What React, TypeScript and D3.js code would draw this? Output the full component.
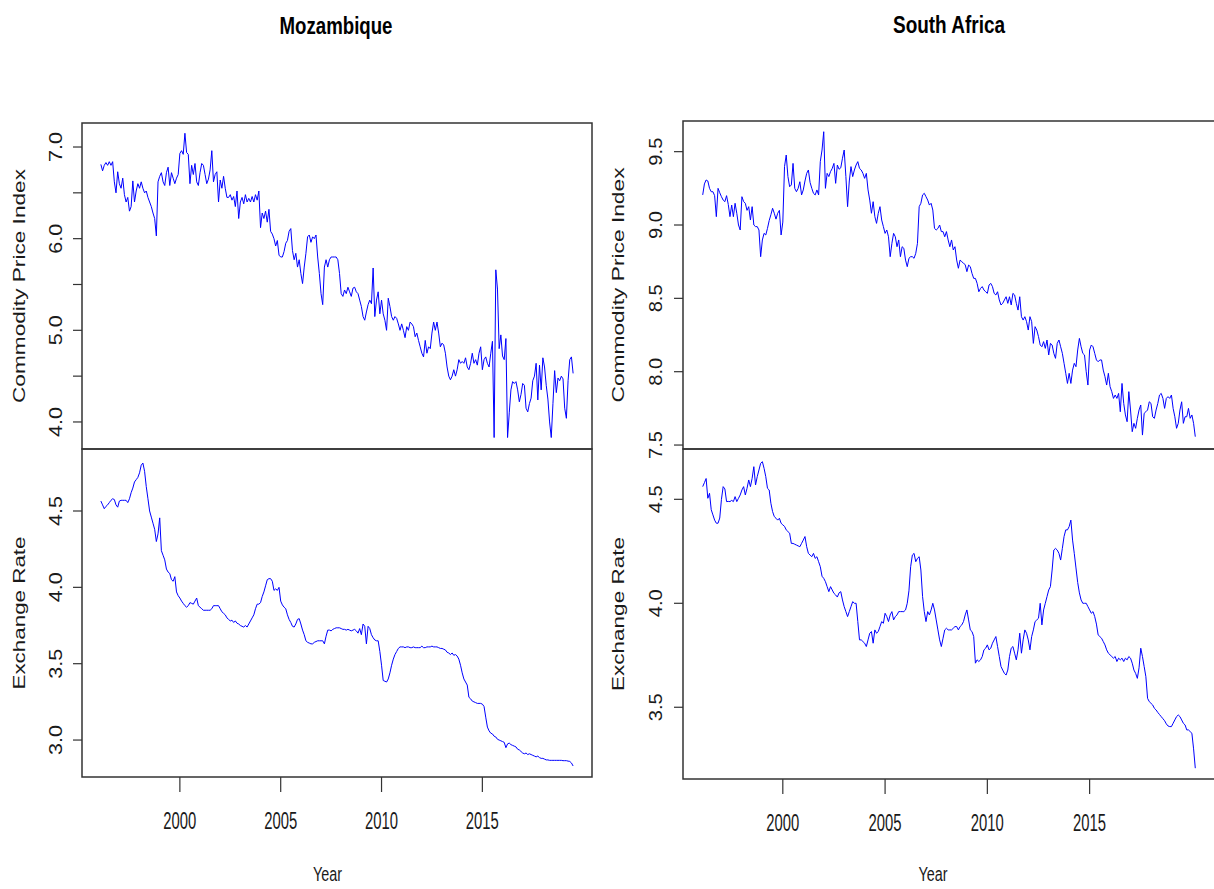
import React from 'react';
import * as d3 from 'd3';

// Monthly series, first observation February 1996.
const START = 1996 + 1 / 12;

// Mozambique: log commodity price index (Feb 1996 – Jul 2019)
const MZ_CPI = [
  6.81, 6.74, 6.80, 6.83, 6.80, 6.84, 6.80, 6.84, 6.62, 6.50, 6.73, 6.60,
  6.55, 6.66, 6.48, 6.40, 6.45, 6.30, 6.35, 6.63, 6.40, 6.52, 6.60, 6.55,
  6.62, 6.55, 6.50, 6.52, 6.45, 6.40, 6.35, 6.28, 6.22, 6.03, 6.62, 6.68,
  6.72, 6.62, 6.58, 6.72, 6.78, 6.58, 6.72, 6.66, 6.60, 6.66, 6.70, 6.93,
  6.96, 6.92, 7.15, 6.94, 6.92, 6.60, 6.80, 6.70, 6.82, 6.62, 6.58, 6.72,
  6.82, 6.80, 6.70, 6.60, 6.65, 6.75, 6.96, 6.62, 6.70, 6.73, 6.40, 6.64,
  6.55, 6.68, 6.55, 6.45, 6.45, 6.48, 6.42, 6.46, 6.35, 6.52, 6.22, 6.40,
  6.45, 6.38, 6.48, 6.40, 6.44, 6.40, 6.46, 6.40, 6.48, 6.42, 6.52, 6.12,
  6.28, 6.22, 6.30, 6.18, 6.32, 6.08, 6.05, 6.00, 5.92, 5.98, 5.82, 5.80,
  5.80, 5.86, 5.95, 5.98, 6.08, 6.11, 5.87, 5.77, 5.84, 5.69, 5.77, 5.62,
  5.51, 5.69, 5.84, 6.02, 6.04, 5.96, 6.02, 6.00, 6.04, 5.80, 5.62, 5.40,
  5.28, 5.69, 5.77, 5.69, 5.77, 5.80, 5.80, 5.80, 5.80, 5.77, 5.62, 5.40,
  5.37, 5.44, 5.40, 5.47, 5.42, 5.37, 5.46, 5.47, 5.42, 5.40, 5.33, 5.26,
  5.15, 5.11, 5.20, 5.28, 5.33, 5.29, 5.68, 5.15, 5.33, 5.42, 5.18, 5.33,
  5.18, 5.11, 5.00, 5.35, 5.26, 5.15, 5.11, 5.15, 5.13, 5.07, 5.00, 5.07,
  5.00, 4.92, 5.04, 5.00, 5.09, 5.07, 5.04, 4.93, 4.97, 4.89, 4.82, 4.75,
  4.71, 4.89, 4.75, 4.82, 4.80, 4.97, 5.09, 5.00, 5.09, 4.97, 4.82, 4.86,
  4.84, 4.75, 4.60, 4.50, 4.46, 4.50, 4.57, 4.50, 4.57, 4.68, 4.64, 4.66,
  4.64, 4.70, 4.60, 4.57, 4.64, 4.75, 4.64, 4.68, 4.62, 4.75, 4.82, 4.57,
  4.68, 4.71, 4.64, 4.60, 4.75, 4.88, 3.83, 5.66, 5.45, 4.80, 4.95, 4.72,
  4.68, 4.91, 3.83, 4.10, 4.35, 4.44, 4.42, 4.44, 4.35, 4.22, 4.30, 4.42,
  4.40, 4.15, 4.11, 4.20, 4.26, 4.45, 4.50, 4.64, 4.24, 4.62, 4.35, 4.70,
  4.60, 4.40, 4.25, 4.00, 3.83, 4.20, 4.56, 4.32, 4.48, 4.45, 4.50, 4.47,
  4.15, 4.04, 4.45, 4.68, 4.71, 4.53,
];

// Mozambique: log exchange rate
const MZ_ER = [
  4.565, 4.54, 4.515, 4.53, 4.54, 4.555, 4.57, 4.58, 4.575, 4.54, 4.525, 4.565,
  4.57, 4.57, 4.57, 4.57, 4.555, 4.58, 4.62, 4.65, 4.69, 4.705, 4.72, 4.75,
  4.80, 4.814, 4.76, 4.66, 4.58, 4.50, 4.46, 4.42, 4.38, 4.30, 4.35, 4.455,
  4.24, 4.21, 4.18, 4.12, 4.10, 4.09, 4.05, 4.04, 4.07, 3.97, 3.945, 3.93,
  3.91, 3.895, 3.88, 3.87, 3.88, 3.90, 3.895, 3.89, 3.91, 3.93, 3.88, 3.87,
  3.86, 3.85, 3.85, 3.85, 3.85, 3.85, 3.86, 3.88, 3.88, 3.88, 3.88, 3.86,
  3.84, 3.83, 3.82, 3.80, 3.79, 3.78, 3.785, 3.77, 3.78, 3.765, 3.76, 3.75,
  3.745, 3.74, 3.75, 3.74, 3.76, 3.78, 3.80, 3.82, 3.86, 3.89, 3.89, 3.90,
  3.94, 3.97, 4.01, 4.05, 4.057, 4.057, 4.04, 3.98, 3.99, 3.98, 4.00, 3.91,
  3.885, 3.87, 3.86, 3.82, 3.79, 3.77, 3.745, 3.74, 3.76, 3.79, 3.795, 3.76,
  3.72, 3.69, 3.65, 3.64, 3.635, 3.63, 3.63, 3.64, 3.645, 3.65, 3.65, 3.65,
  3.65, 3.63, 3.68, 3.72, 3.72, 3.715, 3.725, 3.73, 3.735, 3.735, 3.735, 3.73,
  3.725, 3.725, 3.72, 3.725, 3.72, 3.715, 3.72, 3.725, 3.715, 3.70, 3.73, 3.69,
  3.76, 3.745, 3.63, 3.745, 3.73, 3.69, 3.67, 3.655, 3.65, 3.65, 3.58, 3.49,
  3.39, 3.385, 3.38, 3.40, 3.44, 3.49, 3.53, 3.56, 3.58, 3.60, 3.61, 3.61,
  3.61, 3.605, 3.61, 3.61, 3.605, 3.605, 3.61, 3.605, 3.605, 3.605, 3.605, 3.615,
  3.605, 3.605, 3.61, 3.61, 3.61, 3.615, 3.61, 3.61, 3.61, 3.605, 3.60, 3.60,
  3.595, 3.59, 3.575, 3.57, 3.56, 3.57, 3.555, 3.56, 3.55, 3.53, 3.49, 3.44,
  3.40, 3.38, 3.36, 3.28, 3.27, 3.255, 3.25, 3.245, 3.24, 3.24, 3.24, 3.235,
  3.22, 3.15, 3.085, 3.06, 3.045, 3.04, 3.025, 3.02, 3.005, 3.00, 2.995, 2.99,
  2.985, 2.95, 2.975, 2.98, 2.97, 2.965, 2.96, 2.955, 2.94, 2.935, 2.925, 2.915,
  2.91, 2.915, 2.905, 2.91, 2.905, 2.90, 2.895, 2.89, 2.895, 2.885, 2.88, 2.88,
  2.875, 2.87, 2.87, 2.867, 2.867, 2.867, 2.867, 2.867, 2.867, 2.867, 2.867, 2.865,
  2.865, 2.865, 2.862, 2.86, 2.85, 2.83,
];

// South Africa: log commodity price index (Feb 1996 – Mar 2020)
const SA_CPI = [
  9.205, 9.28, 9.307, 9.30, 9.25, 9.227, 9.227, 9.20, 9.057, 9.25, 9.22, 9.193,
  9.17, 9.159, 9.20, 9.14, 9.057, 9.136, 9.057, 9.148, 9.08, 9.0, 8.966, 9.193,
  9.16, 9.148, 9.10, 9.125, 9.034, 9.125, 9.0, 8.989, 8.989, 8.966, 8.784, 8.898,
  8.943, 8.932, 8.977, 9.03, 9.07, 9.114, 9.08, 9.04, 9.08, 9.10, 8.932, 9.02,
  9.398, 9.477, 9.33, 9.261, 9.273, 9.42, 9.25, 9.227, 9.25, 9.295, 9.205, 9.239,
  9.30, 9.352, 9.375, 9.29, 9.25, 9.216, 9.205, 9.239, 9.205, 9.432, 9.511, 9.636,
  9.25, 9.352, 9.33, 9.364, 9.386, 9.42, 9.284, 9.409, 9.38, 9.39, 9.455, 9.511,
  9.33, 9.125, 9.30, 9.398, 9.33, 9.375, 9.409, 9.432, 9.386, 9.375, 9.352, 9.318,
  9.352, 9.239, 9.17, 9.08, 9.159, 9.057, 9.011, 9.08, 9.125, 9.034, 8.989, 8.943,
  8.966, 8.92, 8.784, 8.875, 8.943, 8.92, 8.852, 8.898, 8.784, 8.852, 8.841, 8.761,
  8.716, 8.773, 8.784, 8.784, 8.773, 8.807, 8.875, 9.125, 9.148, 9.205, 9.216, 9.193,
  9.17, 9.136, 9.148, 9.102, 8.977, 8.966, 8.977, 9.0, 8.955, 8.955, 8.92, 8.955,
  8.898, 8.852, 8.898, 8.83, 8.852, 8.761, 8.705, 8.761, 8.75, 8.739, 8.73, 8.682,
  8.727, 8.716, 8.67, 8.636, 8.636, 8.602, 8.545, 8.568, 8.58, 8.557, 8.545, 8.534,
  8.591, 8.602, 8.58, 8.534, 8.523, 8.545, 8.489, 8.455, 8.466, 8.489, 8.511, 8.466,
  8.511, 8.455, 8.534, 8.523, 8.466, 8.42, 8.511, 8.375, 8.352, 8.375, 8.341, 8.284,
  8.375, 8.341, 8.193, 8.307, 8.284, 8.239, 8.182, 8.17, 8.205, 8.159, 8.216, 8.114,
  8.193, 8.182, 8.125, 8.091, 8.193, 8.216, 8.17, 8.125, 8.057, 7.989, 7.92, 7.989,
  7.92, 8.011, 8.057, 8.034, 8.148, 8.227, 8.17, 8.125, 8.114, 8.0, 7.909, 8.148,
  8.182, 8.17, 8.125, 8.08, 8.068, 8.08, 8.08, 8.011, 7.966, 7.909, 7.989, 7.898,
  7.864, 7.818, 7.841, 7.818, 7.852, 7.727, 7.92, 7.784, 7.705, 7.659, 7.864, 7.739,
  7.591, 7.648, 7.614, 7.682, 7.739, 7.773, 7.568, 7.716, 7.727, 7.739, 7.795, 7.784,
  7.693, 7.682, 7.739, 7.784, 7.841, 7.852, 7.818, 7.75, 7.818, 7.83, 7.818, 7.841,
  7.75, 7.693, 7.614, 7.648, 7.739, 7.795, 7.648, 7.693, 7.693, 7.75, 7.682, 7.705,
  7.648, 7.557,
];

// South Africa: log exchange rate
const SA_ER = [
  4.561, 4.58, 4.60, 4.505, 4.529, 4.45, 4.425, 4.40, 4.385, 4.385, 4.41, 4.50,
  4.561, 4.55, 4.489, 4.49, 4.489, 4.495, 4.489, 4.513, 4.489, 4.505, 4.521, 4.545,
  4.561, 4.521, 4.553, 4.593, 4.561, 4.601, 4.657, 4.569, 4.609, 4.641, 4.673, 4.681,
  4.649, 4.609, 4.553, 4.545, 4.481, 4.441, 4.417, 4.409, 4.40, 4.409, 4.385, 4.377,
  4.37, 4.353, 4.345, 4.337, 4.288, 4.288, 4.284, 4.28, 4.276, 4.272, 4.288, 4.304,
  4.321, 4.272, 4.24, 4.232, 4.224, 4.24, 4.216, 4.224, 4.2, 4.176, 4.13, 4.12,
  4.104, 4.08, 4.056, 4.08, 4.064, 4.048, 4.04, 4.03, 4.05, 4.056, 4.016, 3.984,
  3.96, 3.936, 3.96, 3.984, 4.008, 4.0, 4.0, 3.912, 3.824, 3.824, 3.816, 3.808,
  3.792, 3.824, 3.856, 3.864, 3.808, 3.872, 3.856, 3.864, 3.888, 3.912, 3.904, 3.952,
  3.936, 3.912, 3.944, 3.96, 3.92, 3.936, 3.944, 3.96, 3.96, 3.96, 3.96, 3.968,
  4.0, 4.06, 4.176, 4.232, 4.24, 4.20, 4.216, 4.224, 4.16, 4.032, 3.96, 3.912,
  3.96, 3.944, 3.968, 4.0, 3.968, 3.92, 3.872, 3.824, 3.792, 3.832, 3.872, 3.88,
  3.872, 3.872, 3.872, 3.88, 3.888, 3.888, 3.872, 3.888, 3.896, 3.912, 3.944, 3.968,
  3.92, 3.872, 3.864, 3.84, 3.712, 3.728, 3.72, 3.728, 3.744, 3.776, 3.784, 3.80,
  3.776, 3.784, 3.808, 3.824, 3.84, 3.792, 3.744, 3.696, 3.679, 3.663, 3.655, 3.679,
  3.744, 3.784, 3.792, 3.76, 3.728, 3.776, 3.856, 3.76, 3.824, 3.872, 3.856, 3.824,
  3.776, 3.84, 3.872, 3.912, 3.92, 3.928, 4.0, 3.896, 3.968, 4.0, 4.032, 4.064,
  4.08, 4.16, 4.256, 4.264, 4.256, 4.24, 4.208, 4.264, 4.321, 4.353, 4.353, 4.369,
  4.40, 4.304, 4.24, 4.17, 4.10, 4.05, 4.016, 4.0, 4.0, 4.0, 3.984, 3.968,
  3.952, 3.96, 3.936, 3.90, 3.848, 3.84, 3.832, 3.816, 3.80, 3.776, 3.76, 3.752,
  3.744, 3.736, 3.744, 3.72, 3.736, 3.728, 3.736, 3.72, 3.736, 3.728, 3.744, 3.736,
  3.712, 3.679, 3.663, 3.639, 3.69, 3.784, 3.744, 3.696, 3.647, 3.543, 3.527, 3.519,
  3.511, 3.495, 3.487, 3.475, 3.465, 3.455, 3.445, 3.435, 3.42, 3.41, 3.407, 3.407,
  3.423, 3.439, 3.455, 3.463, 3.455, 3.439, 3.423, 3.415, 3.391, 3.391, 3.383, 3.375,
  3.30, 3.207,
];

// Axis ticks
const YEAR_TICKS = [2000, 2005, 2010, 2015];
const MZ_CPI_TICKS = [4.0, 4.5, 5.0, 5.5, 6.0, 6.5, 7.0];
const MZ_CPI_LABELS = [4.0, 5.0, 6.0, 7.0];
const MZ_ER_TICKS = [3.0, 3.5, 4.0, 4.5];
const SA_CPI_TICKS = [7.5, 8.0, 8.5, 9.0, 9.5];
const SA_ER_TICKS = [3.5, 4.0, 4.5];

// Vertical extents of each panel (data range plus R's 4% padding)
const MZ_CPI_DOMAIN: [number, number] = [3.705, 7.262];
const MZ_ER_DOMAIN: [number, number] = [2.758, 4.906];
const SA_CPI_DOMAIN: [number, number] = [7.473, 9.709];
const SA_ER_DOMAIN: [number, number] = [3.155, 4.742];

const FONT = '"Liberation Sans", Arial, Helvetica, sans-serif';
const INK = '#1a1a1a';
const FRAME = '#333333';
const fmt = d3.format('.1f');

type Panel = {
  values: number[];
  domain: [number, number];
  ticks: number[];
  labels: number[];
  ylab: string;
  ylabLen: number;
};

type Country = {
  name: string;
  x0: number;
  x1: number;
  top: number;
  mid: number;
  bottom: number;
  titleX: number;
  titleLen: number;
  titleBase: number;
  ylabX: number;
  tickLabelX: number;
  tickLabelLen: number;
  yearX: number;
  upper: Panel;
  lower: Panel;
};

const COUNTRIES: Country[] = [
  {
    name: 'Mozambique',
    x0: 82, x1: 592, top: 123, mid: 449, bottom: 777,
    titleX: 336, titleLen: 113, titleBase: 33.5,
    ylabX: 25, tickLabelX: 62, tickLabelLen: 30, yearX: 327.5,
    upper: { values: MZ_CPI, domain: MZ_CPI_DOMAIN, ticks: MZ_CPI_TICKS, labels: MZ_CPI_LABELS, ylab: 'Commodity Price Index', ylabLen: 234 },
    lower: { values: MZ_ER, domain: MZ_ER_DOMAIN, ticks: MZ_ER_TICKS, labels: MZ_ER_TICKS, ylab: 'Exchange Rate', ylabLen: 153 },
  },
  {
    name: 'South Africa',
    x0: 683, x1: 1215, top: 121, mid: 449, bottom: 779,
    titleX: 949, titleLen: 112, titleBase: 32.5,
    ylabX: 624, tickLabelX: 662, tickLabelLen: 28, yearX: 933,
    upper: { values: SA_CPI, domain: SA_CPI_DOMAIN, ticks: SA_CPI_TICKS, labels: SA_CPI_TICKS, ylab: 'Commodity Price Index', ylabLen: 235 },
    lower: { values: SA_ER, domain: SA_ER_DOMAIN, ticks: SA_ER_TICKS, labels: SA_ER_TICKS, ylab: 'Exchange Rate', ylabLen: 154 },
  },
];

function timeOf(i: number) {
  return START + i / 12;
}

function PanelView({ c, p, y0, y1, x }: { c: Country; p: Panel; y0: number; y1: number; x: d3.ScaleLinear<number, number> }) {
  const y = d3.scaleLinear().domain(p.domain).range([y1, y0]);
  const line = d3
    .line<number>()
    .x((_, i) => x(timeOf(i)))
    .y((v) => y(v));
  const cy = (y0 + y1) / 2;
  return (
    <g>
      <path d={line(p.values) ?? ''} fill="none" stroke="#0000ff" strokeWidth={1} strokeLinejoin="round" />
      {p.ticks.map((t) => (
        <line key={`t${t}`} x1={c.x0 - 9} x2={c.x0} y1={y(t)} y2={y(t)} stroke={FRAME} strokeWidth={1.2} />
      ))}
      {p.labels.map((t) => (
        <text
          key={`l${t}`}
          transform={`translate(${c.tickLabelX},${y(t)}) rotate(-90)`}
          textAnchor="middle"
          fontFamily={FONT}
          fontSize={18.5}
          fill={INK}
          textLength={c.tickLabelLen}
          lengthAdjust="spacingAndGlyphs"
        >
          {fmt(t)}
        </text>
      ))}
      <text
        transform={`translate(${c.ylabX},${cy}) rotate(-90)`}
        textAnchor="middle"
        fontFamily={FONT}
        fontSize={16.5}
        fill={INK}
        textLength={p.ylabLen}
        lengthAdjust="spacingAndGlyphs"
      >
        {p.ylab}
      </text>
    </g>
  );
}

function CountryView({ c }: { c: Country }) {
  const n = Math.max(c.upper.values.length, c.lower.values.length);
  const t0 = timeOf(0);
  const t1 = timeOf(n - 1);
  const pad = (t1 - t0) * 0.04;
  const x = d3.scaleLinear().domain([t0 - pad, t1 + pad]).range([c.x0, c.x1]);
  const w = c.x1 - c.x0;
  return (
    <g>
      <text
        x={c.titleX}
        y={c.titleBase}
        textAnchor="middle"
        fontFamily={FONT}
        fontWeight="bold"
        fontSize={24}
        fill="#000"
        textLength={c.titleLen}
        lengthAdjust="spacingAndGlyphs"
      >
        {c.name}
      </text>
      <PanelView c={c} p={c.upper} y0={c.top} y1={c.mid} x={x} />
      <PanelView c={c} p={c.lower} y0={c.mid} y1={c.bottom} x={x} />
      <rect x={c.x0} y={c.top} width={w} height={c.mid - c.top} fill="none" stroke={FRAME} strokeWidth={1.5} />
      <rect x={c.x0} y={c.mid} width={w} height={c.bottom - c.mid} fill="none" stroke={FRAME} strokeWidth={1.5} />
      {YEAR_TICKS.map((t) => (
        <g key={t}>
          <line x1={x(t)} x2={x(t)} y1={c.bottom} y2={c.bottom + 15} stroke={FRAME} strokeWidth={1.2} />
          <text
            x={x(t)}
            y={c.bottom + 52}
            textAnchor="middle"
            fontFamily={FONT}
            fontSize={24.5}
            fill={INK}
            textLength={33}
            lengthAdjust="spacingAndGlyphs"
          >
            {t}
          </text>
        </g>
      ))}
      <text
        x={c.yearX}
        y={881}
        textAnchor="middle"
        fontFamily={FONT}
        fontSize={20.5}
        fill={INK}
        textLength={29}
        lengthAdjust="spacingAndGlyphs"
      >
        Year
      </text>
    </g>
  );
}

export default function App() {
  return (
    <svg
      width={1214}
      height={889}
      viewBox="0 0 1214 889"
      style={{ position: 'absolute', left: 0, top: 0, background: '#fff' }}
    >
      <rect x={0} y={0} width={1214} height={889} fill="#fff" />
      {COUNTRIES.map((c) => (
        <CountryView key={c.name} c={c} />
      ))}
    </svg>
  );
}
